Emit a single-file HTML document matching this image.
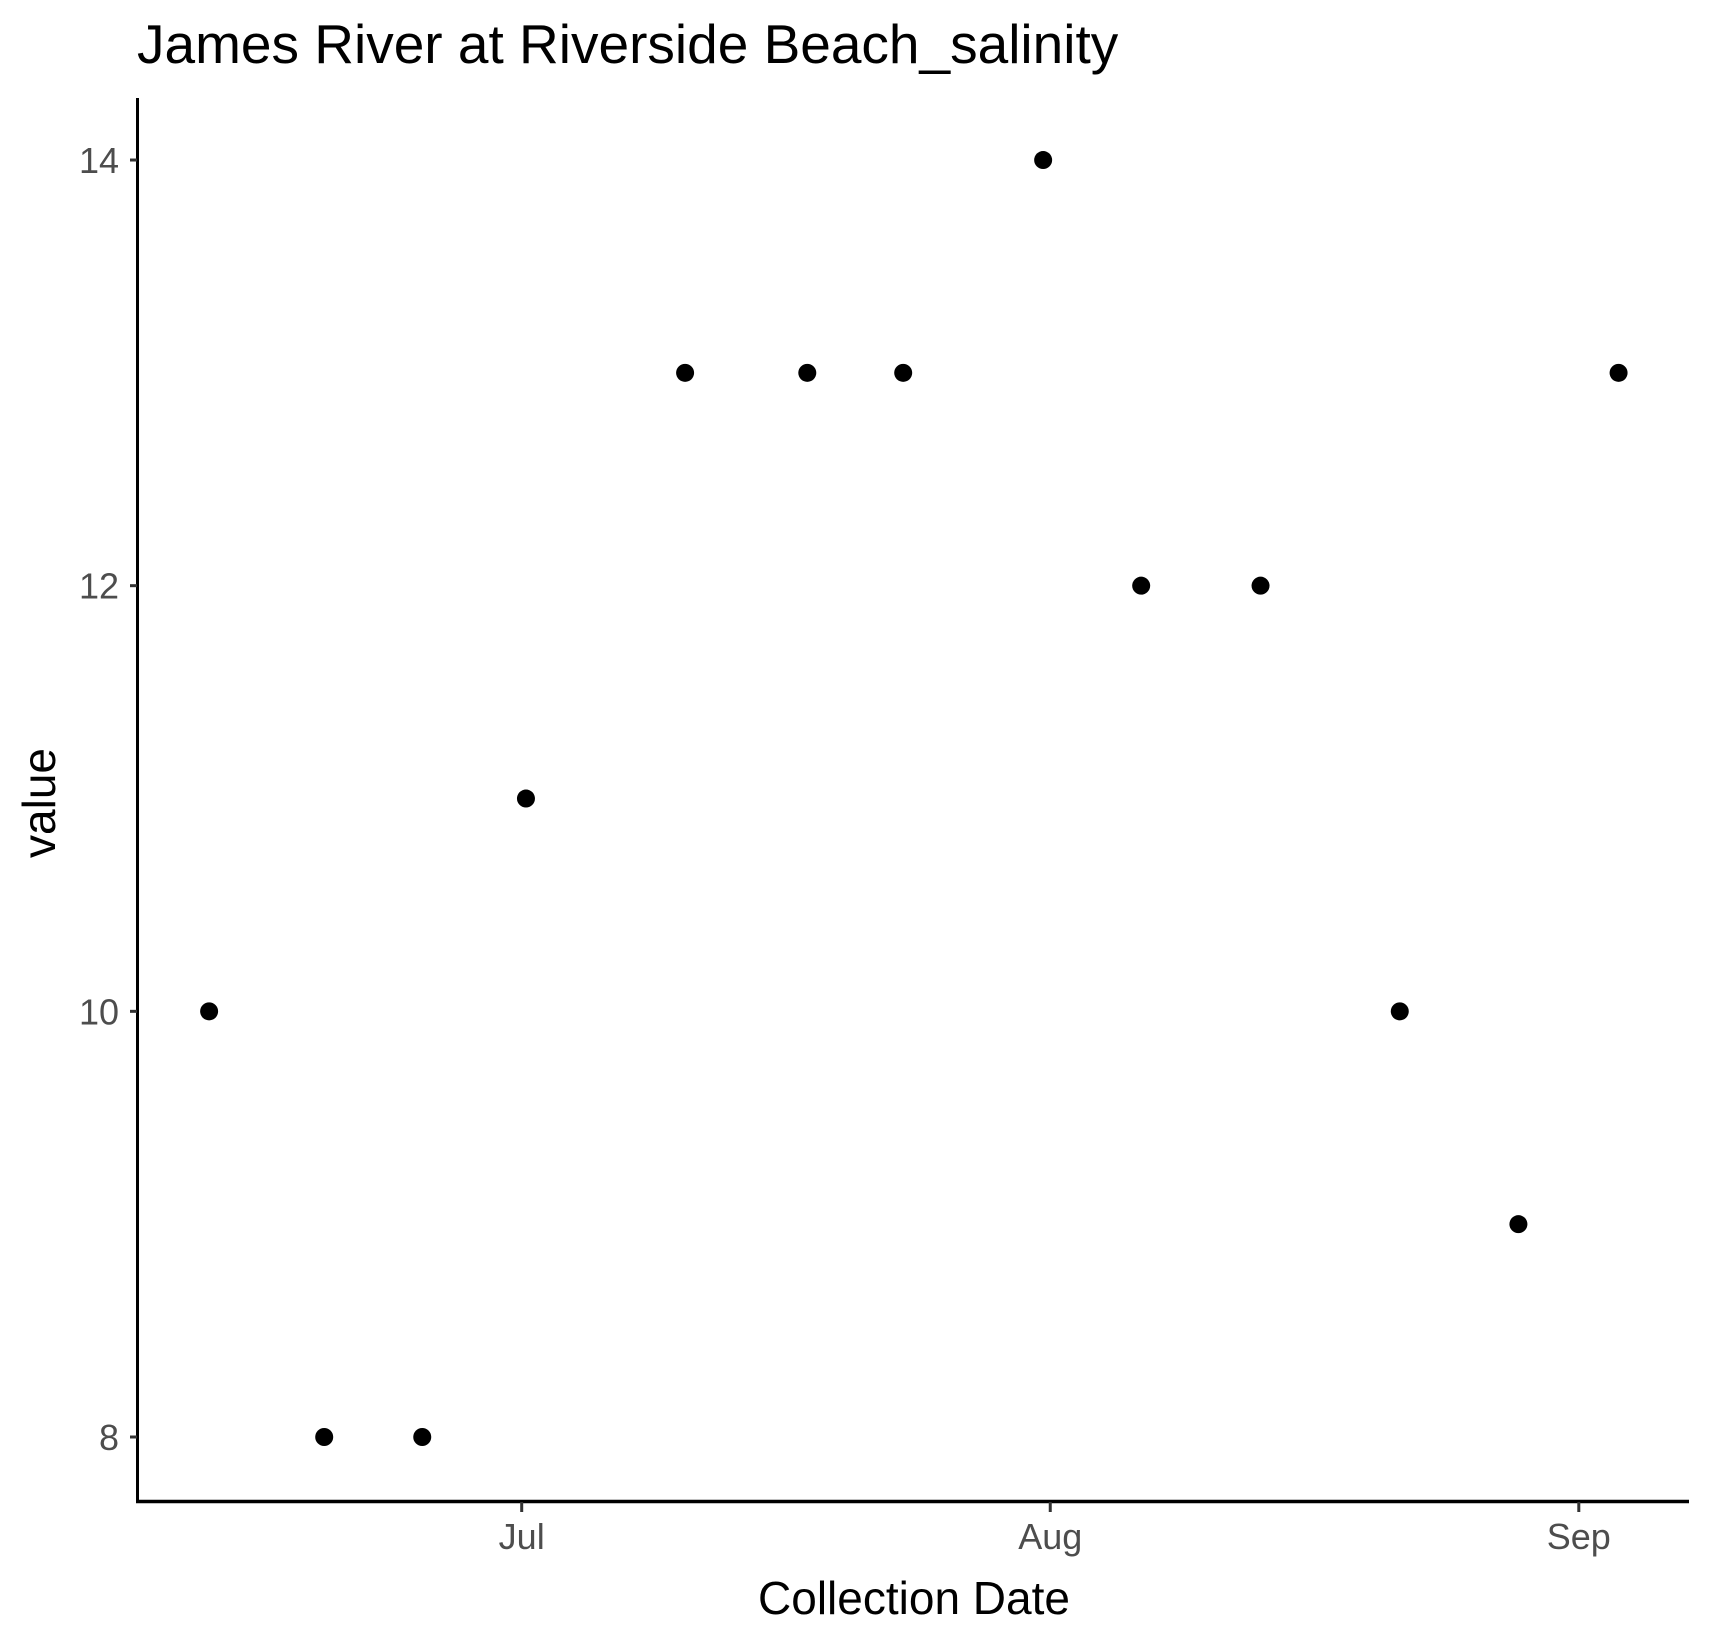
<!DOCTYPE html>
<html><head><meta charset="utf-8"><style>
html,body{margin:0;padding:0;background:#fff;}
svg{display:block;font-family:"Liberation Sans",Arial,sans-serif;}
</style></head><body>
<svg id="chart" width="1712" height="1633" viewBox="0 0 1712 1633">
<rect width="1712" height="1633" fill="#fff"/>
<text x="137" y="63" font-size="55" fill="#000">James River at Riverside Beach_salinity</text>
<g id="marks"></g>
<line x1="137.5" y1="98" x2="137.5" y2="1503" stroke="#000" stroke-width="3"/>
<line x1="136" y1="1501.5" x2="1689" y2="1501.5" stroke="#000" stroke-width="3.5"/>
<g id="yticks"></g>
<g id="xticks"></g>
<text x="914" y="1614" font-size="46" text-anchor="middle" fill="#000">Collection Date</text>
<text transform="translate(55,803) rotate(-90)" font-size="46" text-anchor="middle" fill="#000">value</text>
</svg>
<script>
const dates = ["2021-06-12T16:00","2021-06-19T10:00","2021-06-25T04:00","2021-07-01T06:00","2021-07-10T14:00","2021-07-17T18:00","2021-07-23T09:00","2021-07-31T14:00","2021-08-06T08:00","2021-08-13T08:00","2021-08-21T12:00","2021-08-28T11:00","2021-09-03T08:00"];
const values = [10, 8, 8, 11, 13, 13, 13, 14, 12, 12, 10, 9, 13];
const yTicks = [8, 10, 12, 14];
const xTickDates = ["2021-07-01","2021-08-01","2021-09-01"];
const xTickLabels = ["Jul","Aug","Sep"];

const NS = "http://www.w3.org/2000/svg";
const DAY = 86400000;
const origin = Date.parse("2021-07-01T00:00");
function xScale(d){ return 521.7 + (Date.parse(d) - origin) / DAY * 17.05; }
function yScale(v){ return 1437 - (v - 8) * 212.83; }

const marks = document.getElementById('marks');
dates.forEach((d, i) => {
  const c = document.createElementNS(NS, 'circle');
  c.setAttribute('cx', xScale(d));
  c.setAttribute('cy', yScale(values[i]));
  c.setAttribute('r', 9);
  c.setAttribute('fill', '#000');
  
  
  marks.appendChild(c);
});

const yg = document.getElementById('yticks');
yTicks.forEach(v => {
  const y = yScale(v);
  const l = document.createElementNS(NS, 'line');
  l.setAttribute('x1', 130); l.setAttribute('x2', 137);
  l.setAttribute('y1', y); l.setAttribute('y2', y);
  l.setAttribute('stroke', '#333'); l.setAttribute('stroke-width', 3);
  
  
  yg.appendChild(l);
  const t = document.createElementNS(NS, 'text');
  t.setAttribute('x', 119); t.setAttribute('y', y + 13);
  t.setAttribute('text-anchor', 'end'); t.setAttribute('font-size', 36);
  t.setAttribute('fill', '#4d4d4d');
  
  
  t.textContent = v;
  yg.appendChild(t);
});

const xg = document.getElementById('xticks');
xTickDates.forEach((d, i) => {
  const x = xScale(d);
  const l = document.createElementNS(NS, 'line');
  l.setAttribute('x1', x); l.setAttribute('x2', x);
  l.setAttribute('y1', 1502); l.setAttribute('y2', 1512);
  l.setAttribute('stroke', '#333'); l.setAttribute('stroke-width', 3);
  
  
  xg.appendChild(l);
  const t = document.createElementNS(NS, 'text');
  t.setAttribute('x', x); t.setAttribute('y', 1549);
  t.setAttribute('text-anchor', 'middle'); t.setAttribute('font-size', 36);
  t.setAttribute('fill', '#4d4d4d');
  
  
  t.textContent = xTickLabels[i];
  xg.appendChild(t);
});
</script>
</body></html>
